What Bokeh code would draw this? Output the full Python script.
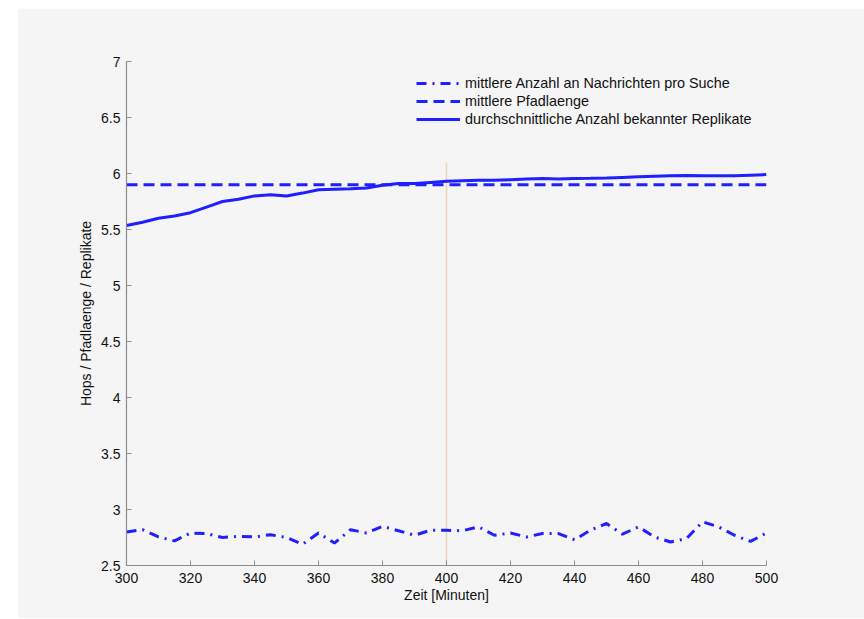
from bokeh.plotting import figure
from bokeh.models import (Range1d, FixedTicker, CustomJSTickFormatter, Label,
                          Legend, LegendItem, Spacer, ColumnDataSource)
from bokeh.layouts import row, column
from bokeh.embed import file_html
from bokeh.resources import INLINE

# ---- data ----
minutes = [300, 305, 310, 315, 320, 325, 330, 335, 340, 345, 350, 355, 360, 365, 370,
           375, 380, 385, 390, 395, 400, 405, 410, 415, 420, 425, 430, 435, 440, 445,
           450, 455, 460, 465, 470, 475, 480, 485, 490, 495, 500]
nachrichten = [2.80, 2.82, 2.755, 2.72, 2.79, 2.785, 2.75, 2.76, 2.755, 2.775, 2.75, 2.69,
               2.79, 2.70, 2.82, 2.79, 2.85, 2.81, 2.77, 2.815, 2.815, 2.81, 2.845, 2.77,
               2.79, 2.755, 2.785, 2.785, 2.73, 2.815, 2.875, 2.78, 2.845, 2.755, 2.71,
               2.74, 2.89, 2.845, 2.77, 2.715, 2.79]
pfadlaenge = [5.9] * len(minutes)
replikate = [5.535, 5.565, 5.60, 5.62, 5.65, 5.70, 5.75, 5.77, 5.80, 5.81, 5.80, 5.825,
             5.855, 5.86, 5.863, 5.87, 5.895, 5.91, 5.91, 5.92, 5.93, 5.935, 5.94, 5.94,
             5.945, 5.95, 5.955, 5.952, 5.955, 5.957, 5.96, 5.965, 5.97, 5.975, 5.98,
             5.982, 5.98, 5.98, 5.98, 5.985, 5.99]
x_ticks = [300, 320, 340, 360, 380, 400, 420, 440, 460, 480, 500]
y_ticks = [2.5, 3, 3.5, 4, 4.5, 5, 5.5, 6, 6.5, 7]
phase_labels = ["V", "VI"]
phase_centers = [348.5, 448]
phase_boundary = 400
boundary_top = 6.1
series_names = ["mittlere Anzahl an Nachrichten pro Suche",
                "mittlere Pfadlaenge",
                "durchschnittliche Anzahl bekannter Replikate"]

BG = "#f5f5f5"
BLUE = "#1f1fff"
FONT = "Liberation Sans"

p = figure(width=847, height=610, output_backend="svg", toolbar_location=None,
           x_range=Range1d(300, 500), y_range=Range1d(2.5, 7),
           min_border_left=109, min_border_right=98, min_border_top=53,
           min_border_bottom=53)
p.background_fill_color = BG
p.border_fill_color = BG
p.outline_line_color = None
p.xgrid.visible = False
p.ygrid.visible = False

for ax in (p.xaxis[0], p.yaxis[0]):
    ax.axis_line_color = "#8c8c8c"
    ax.axis_line_width = 1.2
    ax.major_tick_line_color = "#8c8c8c"
    ax.major_tick_in = 5
    ax.major_tick_out = 0
    ax.minor_tick_line_color = None
    ax.major_label_text_font = FONT
    ax.major_label_text_font_size = "14px"
    ax.major_label_text_color = "#111111"
    ax.axis_label_text_font = FONT
    ax.axis_label_text_font_size = "14px"
    ax.axis_label_text_font_style = "normal"
    ax.axis_label_text_color = "#111111"
    ax.formatter = CustomJSTickFormatter(code="return tick.toString();")

p.xaxis.ticker = FixedTicker(ticks=x_ticks)
p.yaxis.ticker = FixedTicker(ticks=y_ticks)
p.xaxis.axis_label = "Zeit [Minuten]"
p.yaxis.axis_label = "Hops / Pfadlaenge / Replikate"
p.xaxis.major_label_standoff = 7
p.yaxis.major_label_standoff = 6
p.xaxis.axis_label_standoff = 1
p.yaxis.axis_label_standoff = 4

# boundary line
p.segment(x0=[phase_boundary], y0=[2.5], x1=[phase_boundary], y1=[boundary_top],
          line_color="#e6d7c0", line_width=1.5)

src = ColumnDataSource(dict(x=minutes, a=nachrichten, b=pfadlaenge, c=replikate))
r1 = p.line("x", "a", source=src, line_color=BLUE, line_width=3, line_dash="10 6 2 6")
r2 = p.line("x", "b", source=src, line_color=BLUE, line_width=3, line_dash="11 6")
r3 = p.line("x", "c", source=src, line_color=BLUE, line_width=3)

for txt, cx in zip(phase_labels, phase_centers):
    p.add_layout(Label(x=cx, y=7.1, text=txt, text_align="center",
                       text_baseline="middle", text_font=FONT,
                       text_font_size="14px", text_color="#111111"))

legend = Legend(items=[LegendItem(label=series_names[0], renderers=[r1]),
                       LegendItem(label=series_names[1], renderers=[r2]),
                       LegendItem(label=series_names[2], renderers=[r3])],
                location=(290, 437), orientation="vertical")
legend.background_fill_alpha = 0
legend.border_line_color = None
legend.padding = 0
legend.margin = 0
legend.spacing = 0
legend.glyph_width = 44
legend.glyph_height = 18
legend.label_height = 18
legend.label_standoff = 5
legend.label_text_font = FONT
legend.label_text_font_size = "14.4px"
legend.label_text_color = "#111111"
p.add_layout(legend, "center")

layout = column(Spacer(width=856, height=8),
                row(Spacer(width=17, height=610), p))

open("out.html", "w").write(file_html(layout, INLINE))
